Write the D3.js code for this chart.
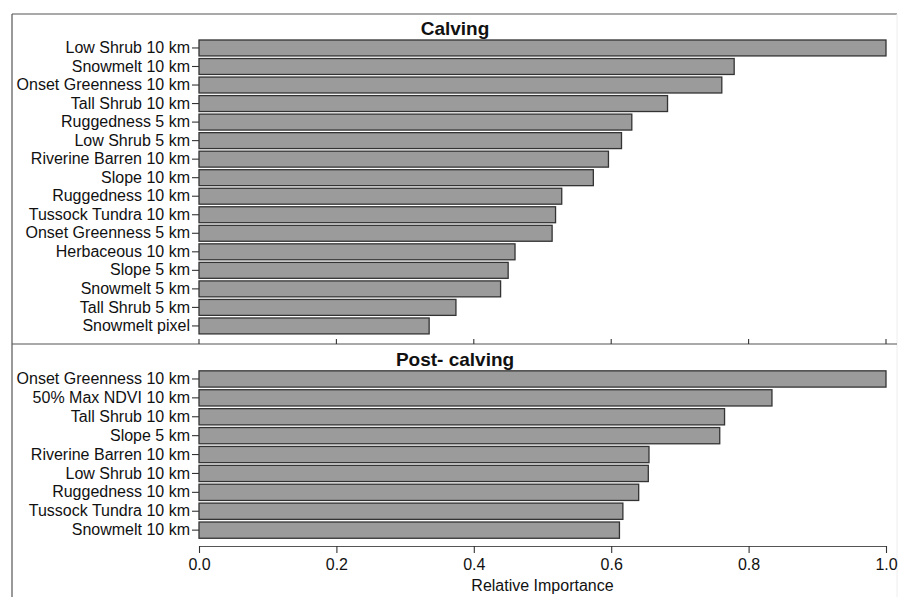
<!DOCTYPE html>
<html>
<head>
<meta charset="utf-8">
<script src="https://cdn.jsdelivr.net/npm/d3@7"></script>
<style>
  body { margin: 0; background: #fff; }
  text { font-family: "Liberation Sans", Arial, sans-serif; fill: #111; }
</style>
</head>
<body>
<div id="chart"></div>
<script>
// Calving panel
const calvingNames = ["Low Shrub 10 km", "Snowmelt 10 km", "Onset Greenness 10 km", "Tall Shrub 10 km",
  "Ruggedness 5 km", "Low Shrub 5 km", "Riverine Barren 10 km", "Slope 10 km", "Ruggedness 10 km",
  "Tussock Tundra 10 km", "Onset Greenness 5 km", "Herbaceous 10 km", "Slope 5 km", "Snowmelt 5 km",
  "Tall Shrub 5 km", "Snowmelt pixel"];
const calvingValues = [1.0, 0.779, 0.761, 0.682, 0.630, 0.615, 0.596, 0.574, 0.528,
  0.519, 0.514, 0.460, 0.450, 0.439, 0.374, 0.335];

// Post-calving panel
const postNames = ["Onset Greenness 10 km", "50% Max NDVI 10 km", "Tall Shrub 10 km", "Slope 5 km",
  "Riverine Barren 10 km", "Low Shrub 10 km", "Ruggedness 10 km", "Tussock Tundra 10 km", "Snowmelt 10 km"];
const postValues = [1.0, 0.834, 0.765, 0.758, 0.655, 0.654, 0.640, 0.617, 0.612];

const xTicks = [0, 0.2, 0.4, 0.6, 0.8, 1.0];

const width = 911, height = 597;
const frameLeft = 12, frameRight = 897, frameTop = 14, divider = 344;

const svg = d3.select("#chart").append("svg")
  .attr("width", width)
  .attr("height", height);

const x = d3.scaleLinear().domain([0, 1]).range([199, 886]);

// frame
svg.append("line").attr("x1", frameLeft).attr("x2", frameRight).attr("y1", frameTop).attr("y2", frameTop)
  .attr("stroke", "#555").attr("stroke-width", 1.2);
svg.append("line").attr("x1", frameLeft).attr("x2", frameLeft).attr("y1", frameTop).attr("y2", height)
  .attr("stroke", "#555").attr("stroke-width", 1.2);
svg.append("line").attr("x1", frameRight).attr("x2", frameRight).attr("y1", frameTop).attr("y2", height)
  .attr("stroke", "#eee").attr("stroke-width", 1);
svg.append("line").attr("x1", frameLeft).attr("x2", frameRight).attr("y1", divider).attr("y2", divider)
  .attr("stroke", "#555").attr("stroke-width", 1.2);

function panel(names, values, y0, y1, title, titleY) {
  const y = d3.scaleBand().domain(names).range([y0, y1]).padding(0.14);
  const g = svg.append("g");

  g.selectAll(".bar")
    .data(names)
    .enter().append("rect")
    .attr("class", "bar")
    .attr("x", x(0))
    .attr("y", function (d) { return y(d); })
    .attr("width", function (d, i) { return x(values[i]) - x(0); })
    .attr("height", y.bandwidth())
    .attr("fill", "#9b9b9b")
    .attr("stroke", "#333")
    .attr("stroke-width", 1.3);

  const yAxis = g.append("g")
    .attr("transform", "translate(" + x(0) + ",0)")
    .call(d3.axisLeft(y).tickSize(7).tickPadding(2));
  yAxis.select(".domain").remove();
  yAxis.selectAll(".tick line").attr("stroke", "#333").attr("stroke-width", 1.1);
  yAxis.selectAll(".tick text")
    .style("font-size", "16px")
    .style("font-family", "'Liberation Sans', Arial, sans-serif")
    .attr("fill", "#111");

  g.append("text")
    .attr("x", (frameLeft + frameRight) / 2 + 0.5)
    .attr("y", titleY)
    .style("text-anchor", "middle")
    .style("font-size", "19px")
    .style("font-weight", "bold")
    .text(title);
  return y;
}

panel(calvingNames, calvingValues, 37.4, 336.5, "Calving", 35);
panel(postNames, postValues, 368.2, 540.9, "Post- calving", 366);

// small upward ticks on the divider for the calving panel
svg.append("g").selectAll("line")
  .data(xTicks)
  .enter().append("line")
  .attr("x1", function (d) { return x(d); })
  .attr("x2", function (d) { return x(d); })
  .attr("y1", divider - 5)
  .attr("y2", divider)
  .attr("stroke", "#333")
  .attr("stroke-width", 1.1);

// bottom x-axis
const xAxis = svg.append("g")
  .attr("transform", "translate(0,546)")
  .call(d3.axisBottom(x).tickValues(xTicks).tickFormat(d3.format(".1f")).tickSize(7).tickSizeOuter(0).tickPadding(6));
xAxis.select(".domain").attr("stroke", "#555").attr("stroke-width", 1.2);
xAxis.selectAll(".tick line").attr("stroke", "#333").attr("stroke-width", 1.1);
xAxis.selectAll(".tick text")
  .style("font-size", "16px")
  .style("font-family", "'Liberation Sans', Arial, sans-serif")
  .attr("fill", "#111");

svg.append("text")
  .attr("x", x(0.5))
  .attr("y", 591)
  .style("text-anchor", "middle")
  .style("font-size", "16px")
  .text("Relative Importance");
</script>
</body>
</html>
